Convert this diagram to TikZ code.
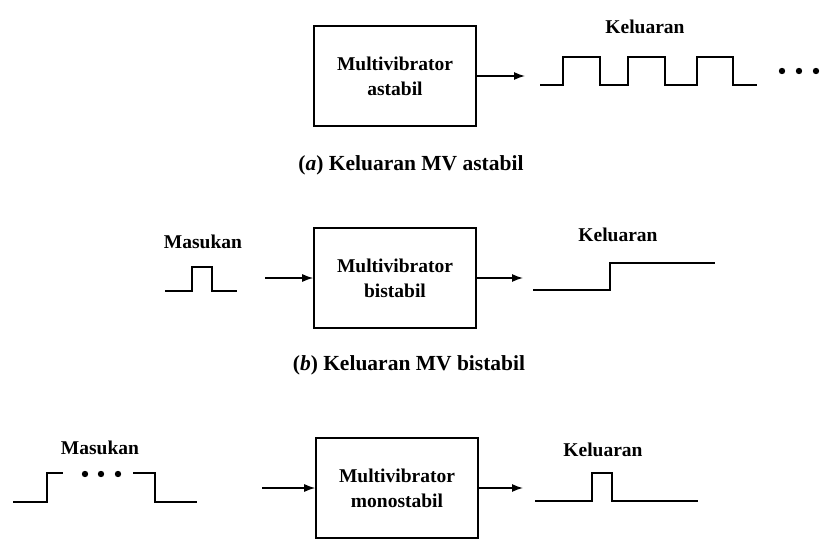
\documentclass[tikz,border=0pt]{standalone}
\usepackage{fontspec}
\setmainfont{Liberation Serif}
\usetikzlibrary{arrows.meta}

\begin{document}
\begin{tikzpicture}[x=1pt, y=-1pt,
  every node/.style={font=\bfseries\fontsize{19.5}{25}\selectfont},
  mvbox/.style={draw, line width=1.6pt, minimum width=162pt, minimum height=100pt, align=center},
  caption/.style={font=\bfseries\fontsize{21.5}{25}\selectfont},
  conn/.style={line width=1.4pt, -{Latex[length=11pt,width=8pt]}},
  wave/.style={line width=2.6pt}]
\useasboundingbox (0,0) rectangle (823,549);
% Panel (a)
\node[mvbox] (astabil) at (395,76) {Multivibrator\\astabil};
\node (kelA) at (645,27) {Keluaran};
\node[caption] (capA) at (411,165) {(\textit{a}) Keluaran MV astabil};
\coordinate (outA) at (525,76);
\draw[conn] (astabil.east) -- (outA);
\draw[wave] (540,85) \foreach \r/\f in {563/600, 628/665, 697/733} { -- (\r,85) -- (\r,57) -- (\f,57) -- (\f,85) } -- (757,85);
\foreach \x in {782, 799, 816}
    \fill (\x,71) circle (3.2pt);
% Panel (b)
\node[mvbox] (bistabil) at (395,278) {Multivibrator\\bistabil};
\node (masB) at (203,242) {Masukan};
\node (kelB) at (618,235) {Keluaran};
\node[caption] (capB) at (409,365) {(\textit{b}) Keluaran MV bistabil};
\coordinate (inB) at (265,278);
\coordinate (outB) at (523,278);
\draw[conn] (inB) -- (bistabil.west);
\draw[conn] (bistabil.east) -- (outB);
\draw[wave] (165,291) -- (192,291) -- (192,267) -- (212,267) -- (212,291) -- (237,291);
\draw[wave] (533,290) -- (610,290) -- (610,263) -- (715,263);
% Panel (c)
\node[mvbox] (monostabil) at (397,488) {Multivibrator\\monostabil};
\node (masC) at (100,448) {Masukan};
\node (kelC) at (603,450) {Keluaran};
\coordinate (inC) at (262,488);
\coordinate (outC) at (523,488);
\draw[conn] (inC) -- (monostabil.west);
\draw[conn] (monostabil.east) -- (outC);
\draw[wave] (13,502) -- (47,502) -- (47,473) -- (63,473);
\foreach \x in {85, 101, 118}
    \fill (\x,474) circle (3.2pt);
\draw[wave] (133,473) -- (155,473) -- (155,502) -- (197,502);
\draw[wave] (535,501) -- (592,501) -- (592,473) -- (612,473) -- (612,501) -- (698,501);
\end{tikzpicture}
\end{document}
